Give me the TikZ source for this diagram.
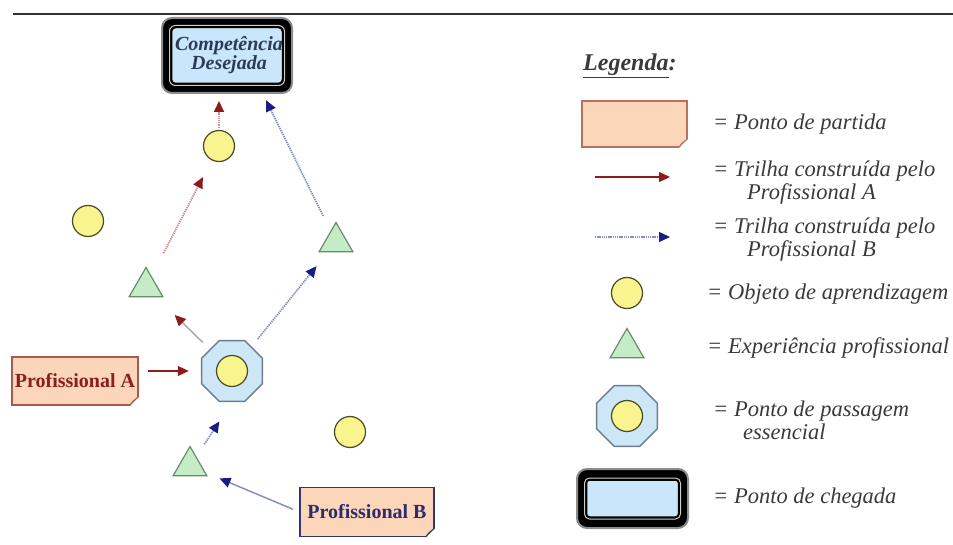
\documentclass[tikz,border=0pt]{standalone}
\usepackage{fontspec}
\setmainfont{Liberation Serif}
\usetikzlibrary{shapes.geometric,arrows.meta,calc}
\definecolor{notefill}{HTML}{FCD6B8}
\definecolor{foldfill}{HTML}{E0A888}
\definecolor{noteA}{HTML}{A8584C}
\definecolor{noteB}{HTML}{34346E}
\definecolor{noteL}{HTML}{B87060}
\definecolor{textA}{HTML}{8B1E1E}
\definecolor{textB}{HTML}{2C2C6C}
\definecolor{objfill}{HTML}{F9F48E}
\definecolor{objdraw}{HTML}{4A4A2A}
\definecolor{expfill}{HTML}{C4ECC6}
\definecolor{expdraw}{HTML}{6A8C6C}
\definecolor{essfill}{HTML}{CDE7F7}
\definecolor{essdraw}{HTML}{6C7C8E}
\definecolor{tgtfill}{HTML}{C9E6FA}
\definecolor{tgttext}{HTML}{2E3B58}
\definecolor{headA}{HTML}{8E1B1B}
\definecolor{shaftA}{HTML}{CF9090}
\definecolor{headB}{HTML}{1B1B85}
\definecolor{shaftB}{HTML}{8390C4}
\definecolor{lgcol}{HTML}{3A3A3A}
\newcommand{\lgfont}{\fontsize{22.5}{23}\selectfont\itshape}
\begin{document}
\begin{tikzpicture}[x=1pt,y=-1pt,
  obj/.style={circle, minimum size=31pt, inner sep=0pt, fill=objfill, draw=objdraw, line width=1.2pt},
  exp/.style={regular polygon, regular polygon sides=3, minimum size=39pt, inner sep=0pt, fill=expfill, draw=expdraw, line width=1.2pt},
  ess/.style={regular polygon, regular polygon sides=8, minimum size=66pt, inner sep=0pt, fill=essfill, draw=essdraw, line width=1.5pt},
  notebox/.style={rectangle, inner sep=0pt, fill=notefill, draw=#1, line width=1.1pt},
  notetext/.style={font=\fontsize{20}{20}\selectfont\bfseries},
  frameout/.style={rectangle, rounded corners=10pt, fill=black, draw=black!45, line width=2pt, inner sep=0pt},
  tipA/.style={-{Triangle[length=11pt,width=10pt,color=headA]}},
  tipB/.style={-{Triangle[length=11pt,width=10pt,color=headB]}},
  trailA/.style={tipA, draw=shaftA, line width=1.8pt, dash pattern=on 1.3pt off 0.9pt},
  trailB/.style={tipB, draw=shaftB, line width=1.8pt, dash pattern=on 1.3pt off 0.9pt},
  solidA/.style={tipA, draw=headA, line width=1.1pt},
  greyA/.style={tipA, draw=black!35, line width=1.4pt},
  solidB/.style={tipB, draw=shaftB, line width=1.5pt},
  lgtext/.style={anchor=west, inner sep=0pt, font=\lgfont, text=lgcol, align=left}
]
\useasboundingbox (0,0) rectangle (953,545);
\clip (0,0) rectangle (953,545);

% top rule
\draw[line width=1.3pt, black!80] (13,14) -- (953,14);

% ---------- target ----------
\node[frameout, minimum width=130pt, minimum height=75pt] (tgt) at (227,55.5) {};
\draw[black!20, line width=1pt, rounded corners=6pt] ([xshift=8.5pt,yshift=-8.5pt]tgt.north west) rectangle ([xshift=-8.5pt,yshift=8.5pt]tgt.south east);
\filldraw[fill=tgtfill, draw=black, line width=1.5pt, rounded corners=4pt] ([xshift=10.5pt,yshift=-10.5pt]tgt.north west) rectangle ([xshift=-10.5pt,yshift=10.5pt]tgt.south east);
\begin{scope}
\clip ([xshift=11.5pt,yshift=-11.5pt]tgt.north west) rectangle ([xshift=-11.5pt,yshift=11.5pt]tgt.south east);
\node[font=\fontsize{20}{19}\selectfont\bfseries\itshape, text=tgttext, align=center, inner sep=0pt] (tgtlabel) at ([xshift=2pt]tgt.center) {Competência\\Desejada};
\end{scope}
\coordinate (tgtin) at ([xshift=-30pt]tgt.south east);

% ---------- diagram nodes ----------
\node[obj] (c1) at (219,146) {};
\node[obj] (c2) at (88,221) {};
\node[obj] (c3) at (350,432) {};
\node[exp] (t1) at (146,287) {};
\node[exp] (t2) at (336,242) {};
\node[exp] (t3) at (190,466) {};
\node[ess] (oct) at (232,371) {};
\node[obj] (octc) at (oct) {};

\node[notebox=noteA, minimum width=126pt, minimum height=48pt] (pa) at (75,381) {};
\fill[white] ([xshift=-9pt,yshift=-1pt]pa.south east) -- ([xshift=1pt,yshift=-1pt]pa.south east) -- ([xshift=1pt,yshift=9pt]pa.south east) -- cycle;
\filldraw[fill=foldfill, draw=noteA, line width=0.8pt] ([xshift=-9pt]pa.south east) -- ([yshift=9pt]pa.south east) -- ([xshift=-6pt,yshift=4pt]pa.south east) -- cycle;
\node[notetext, text=textA] (palabel) at (pa) {Profissional A};

\node[notebox=noteB, minimum width=134pt, minimum height=49pt] (pb) at (367,512) {};
\fill[white] ([xshift=-9pt,yshift=-1pt]pb.south east) -- ([xshift=1pt,yshift=-1pt]pb.south east) -- ([xshift=1pt,yshift=9pt]pb.south east) -- cycle;
\filldraw[fill=foldfill, draw=noteB, line width=0.8pt] ([xshift=-9pt]pb.south east) -- ([yshift=9pt]pb.south east) -- ([xshift=-6pt,yshift=4pt]pb.south east) -- cycle;
\node[notetext, text=textB] (pblabel) at (pb) {Profissional B};

% ---------- trails ----------
\draw[solidA, shorten <=9pt, shorten >=12pt] (pa.east |- oct) -- (oct.west);
\draw[greyA] ($(oct)!41pt!(t1)$) -- ($(t1)!40pt!(oct)$);
\draw[trailA] ($(t1)!38pt!(c1)$) -- ($(c1)!35pt!(t1)$);
\draw[trailA, shorten <=2pt, shorten >=7pt] (c1.north) -- (c1.north |- tgt.south);

\draw[solidB] ($(pb.west)!7pt!(t3)$) -- ($(t3)!32pt!(pb.west)$);
\draw[trailB] ($(t3)!26pt!(oct.south)$) -- ($(oct.south)!23pt!(t3)$);
\draw[trailB] ($(oct)!41pt!(t2)$) -- ($(t2)!31pt!(oct)$);
\draw[trailB, shorten >=7pt] ($(t2)!29pt!(tgtin)$) -- (tgtin);

% ---------- legend ----------
\node[anchor=west, inner sep=0pt, font=\fontsize{24}{24}\selectfont\bfseries\itshape, text=lgcol] (lgtitle) at (583,66) {\underline{Legenda}:};

\node[notebox=noteL, minimum width=105pt, minimum height=46pt] (lnote) at (634.5,124) {};
\fill[white] ([xshift=-9pt,yshift=-1pt]lnote.south east) -- ([xshift=1pt,yshift=-1pt]lnote.south east) -- ([xshift=1pt,yshift=9pt]lnote.south east) -- cycle;
\filldraw[fill=foldfill, draw=noteL, line width=0.8pt] ([xshift=-9pt]lnote.south east) -- ([yshift=9pt]lnote.south east) -- ([xshift=-6pt,yshift=4pt]lnote.south east) -- cycle;
\node[lgtext] (l1) at (713,124) {= Ponto de partida};

\coordinate (la1) at (595,177);
\coordinate (la2) at (670,177);
\draw[solidA] (la1) -- (la2);
\node[lgtext] (l2) at (713,183) {= Trilha construída pelo\\\hspace*{34pt}Profissional A};

\coordinate (lb1) at (595,237);
\coordinate (lb2) at (670,237);
\draw[trailB, line width=1.3pt] (lb1) -- (lb2);
\node[lgtext] (l3) at (713,240) {= Trilha construída pelo\\\hspace*{34pt}Profissional B};

\node[obj] (lobj) at (627,293) {};
\node[lgtext] (l4) at (707,294) {= Objeto de aprendizagem};

\node[exp] (lexp) at (627,348) {};
\node[lgtext] (l5) at (707,348) {= Experiência profissional};

\node[ess] (less) at (627,416) {};
\node[obj] (lessc) at (less) {};
\node[lgtext] (l6) at (713,420) {= Ponto de passagem\\\hspace*{30pt}essencial};

\node[frameout, minimum width=111pt, minimum height=59pt] (lfin) at (632.5,498.5) {};
\draw[black!20, line width=1pt, rounded corners=5pt] ([xshift=8.5pt,yshift=-10pt]lfin.north west) rectangle ([xshift=-8.5pt,yshift=10pt]lfin.south east);
\filldraw[fill=tgtfill, draw=black, line width=1.5pt, rounded corners=3pt] ([xshift=10.5pt,yshift=-12pt]lfin.north west) rectangle ([xshift=-10.5pt,yshift=12pt]lfin.south east);
\node[lgtext] (l7) at (713,498) {= Ponto de chegada};
\end{tikzpicture}
\end{document}
